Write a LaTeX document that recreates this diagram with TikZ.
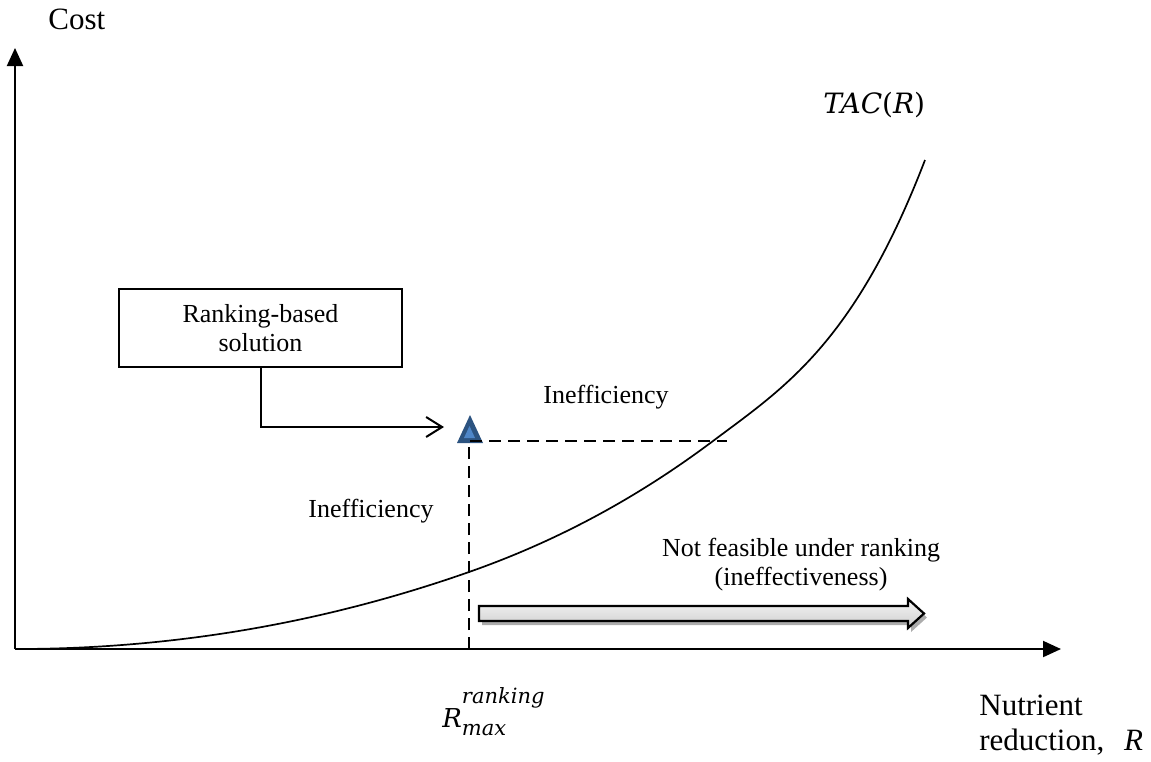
\documentclass[tikz,border=0pt]{standalone}
\usepackage{fontspec}
\setmainfont{Liberation Serif}
\newfontfamily\mathlike{DejaVu Serif}
\usetikzlibrary{arrows.meta}
\definecolor{tridark}{HTML}{2C5380}
\definecolor{trilight}{HTML}{4E86C8}
\tikzset{
  axisline/.style={line width=1pt, -{Triangle[length=9pt,width=8pt]}},
  guide/.style={line width=0.9pt, dash pattern=on 6pt off 3.5pt},
  conn/.style={line width=1pt, -{Straight Barb[length=8pt,width=10pt,line width=1pt]}},
  lbl/.style={font=\fontsize{13pt}{14.5pt}\selectfont, inner sep=0pt},
  biglbl/.style={font=\fontsize{15.5pt}{18pt}\selectfont, inner sep=0pt},
  mlbl/.style={font=\fontsize{14pt}{16pt}\selectfont\mathlike\itshape, inner sep=0pt},
  solbox/.style={draw, line width=1pt, minimum width=141.5pt, minimum height=39pt,
    align=center, inner sep=0pt, font=\fontsize{13pt}{14.5pt}\selectfont},
  costcurve/.style={line width=0.85pt},
}
\begin{document}
\begin{tikzpicture}[x=0.5pt, y=-0.5pt]
\useasboundingbox (0,0) rectangle (1151,761);

% axes
\coordinate (O) at (15,649);
\coordinate (ytip) at (15,48);
\coordinate (xtip) at (1061,649);
\draw[axisline] (O) -- (ytip);
\draw[axisline] (O) -- (xtip);

% cost curve
\coordinate (c0) at (16,649);
\coordinate (c1) at (469,572);
\coordinate (c2) at (713,441);
\coordinate (c3) at (925,160);
\draw[costcurve] (c0) .. controls (167,649) and (318,625) .. (c1)
  .. controls (550.3,543.5) and (631.7,502) .. (c2)
  .. controls (783.7,388) and (854.3,343.8) .. (c3);

% big grey arrow (shadow + body)
\fill[gray!65] (482,610) -- (911,610) -- (911,603) -- (927,617.5) -- (911,632)
  -- (911,625) -- (482,625) -- cycle;
\draw[line width=1.1pt, top color=gray!8, bottom color=gray!38]
  (479,606) -- (908,606) -- (908,599) -- (924,613.5) -- (908,628)
  -- (908,621) -- (479,621) -- cycle;

% triangle marker
\coordinate (tri) at (470,430);
\fill[tridark] (457,443) -- (470,415) -- (483,443) -- cycle;
\fill[trilight] (464,438) -- (469.5,426) -- (475,438) -- cycle;

% dashed guides
\coordinate (rx) at (469,649);
\coordinate (rtop) at (469,447);
\coordinate (hl) at (470,441);
\coordinate (hr) at (727,441);
\draw[guide] (rx) -- (rtop);
\draw[guide] (hl) -- (hr);

% box and connector
\node[solbox] (box) at (260.5,328) {Ranking-based\\solution};
\coordinate (arrEnd) at (444,427);
\draw[conn] (box.south) |- (arrEnd);

% labels
\node[biglbl, anchor=base west] (cost) at (48,29) {Cost};
\node[mlbl, anchor=base west] (tac) at (823,113) {TAC{\upshape(}R{\upshape)}};
\node[lbl, anchor=base] (ineffH) at (606,403) {Inefficiency};
\node[lbl, anchor=base] (ineffV) at (371,517) {Inefficiency};
\node[lbl, anchor=base] (nf1) at (801,556) {Not feasible under ranking};
\node[lbl, anchor=base] (nf2) at (801,585) {(ineffectiveness)};
\node[biglbl, anchor=base west] (nut1) at (979,715) {Nutrient};
\node[biglbl, anchor=base west] (nut2) at (979,750) {reduction,\hspace{10pt}\textit{R}};
\node[inner sep=0pt, anchor=base west] (rmax) at (442,727)
  {\mathlike\itshape\fontsize{13pt}{15pt}\selectfont R%
   \rlap{\raisebox{12pt}{\fontsize{10.5pt}{12pt}\selectfont ranking}}%
   \raisebox{-4pt}{\fontsize{10.5pt}{12pt}\selectfont max}};
\end{tikzpicture}
\end{document}
